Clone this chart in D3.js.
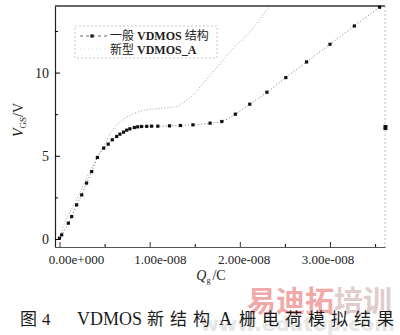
<!DOCTYPE html>
<html>
<head>
<meta charset="utf-8">
<script src="https://cdn.jsdelivr.net/npm/d3@7"></script>
<style>
  html, body { margin: 0; padding: 0; background: #fff; }
  svg { display: block; }
</style>
</head>
<body>
<script>
// Gate charge curves: Qg (in units of 1e-8 C) vs VGS (V)
const qgStandard = [0, 0.024, 0.098, 0.135, 0.19, 0.246, 0.30, 0.357, 0.42, 0.49, 0.54, 0.585, 0.634, 0.67, 0.71, 0.745, 0.78, 0.83, 0.867, 0.91, 0.967, 1.02, 1.09, 1.22, 1.34, 1.48, 1.67, 1.80, 1.95, 2.11, 2.30, 2.51, 2.74, 3.0, 3.27, 3.55];
const vgsStandard = [0.05, 0.25, 0.95, 1.35, 2.05, 2.65, 3.36, 4.05, 4.9, 5.46, 5.7, 5.96, 6.16, 6.3, 6.42, 6.54, 6.62, 6.70, 6.74, 6.76, 6.77, 6.78, 6.78, 6.8, 6.82, 6.86, 6.96, 7.06, 7.5, 8.1, 8.82, 9.7, 10.64, 11.7, 12.8, 13.93];

const qgNew = [0, 0.042, 0.098, 0.16, 0.26, 0.375, 0.486, 0.56, 0.634, 0.726, 0.837, 0.967, 1.07, 1.15, 1.30, 1.39, 1.50, 1.577, 1.69, 1.80, 1.946, 2.113, 2.205, 2.28, 2.335];
const vgsNew = [0, 0.75, 1.45, 2.05, 3.2, 4.46, 5.56, 6.3, 6.86, 7.26, 7.56, 7.76, 7.82, 7.86, 7.96, 8.26, 8.76, 9.26, 9.96, 10.66, 11.56, 12.46, 13.06, 13.66, 13.96];

// lone marker sitting on the right frame
const edgeQg = [3.615];
const edgeVgs = [6.7];

const xMajorTicks = [0, 1, 2, 3];
const xTickLabels = ["0.00e+000", "1.00e-008", "2.00e-008", "3.00e-008"];
const yMajorTicks = [0, 5, 10];
const yMinorTicks = [2.5, 7.5, 12.5];
const xMinorTicks = [0.5, 1.5, 2.5, 3.5];

const legendLabels = ["一般 VDMOS 结构", "新型 VDMOS_A"];

const W = 400, H = 335;
const svg = d3.select("body").append("svg").attr("width", W).attr("height", H);
svg.append("rect").attr("width", W).attr("height", H).attr("fill", "#fff");

const x = d3.scaleLinear().domain([-0.05, 3.61]).range([55, 385]);
const y = d3.scaleLinear().domain([-0.48, 14.0]).range([247, 6]);
// tick labels in the print sit on a slightly compressed spacing
const xLab = d3.scaleLinear().domain([0, 3]).range([76, 327.5]);

const serif = "'Liberation Serif', 'DejaVu Serif', serif";
const cjk = "'Noto Sans CJK SC', sans-serif";

// Frame
const frame = svg.append("g");
frame.append("line").attr("x1", x.range()[0]).attr("x2", x.range()[1]).attr("y1", y.range()[1]).attr("y2", y.range()[1])
  .attr("stroke", "#333").attr("stroke-width", 1.6);
frame.append("line").attr("x1", x.range()[1]).attr("x2", x.range()[1]).attr("y1", y.range()[1]).attr("y2", y.range()[0])
  .attr("stroke", "#bbb").attr("stroke-width", 1).attr("stroke-dasharray", "2,2");

// Axes
const gx = svg.append("g").attr("transform", `translate(0,${y.range()[0]})`)
  .call(d3.axisBottom(x).tickValues(xMajorTicks).tickSizeInner(-5).tickSizeOuter(0).tickFormat(""));
const gxMinor = svg.append("g").attr("transform", `translate(0,${y.range()[0]})`)
  .call(d3.axisBottom(x).tickValues(xMinorTicks).tickSizeInner(-3).tickSizeOuter(0).tickFormat(""));
gxMinor.select(".domain").remove();
const gxLab = svg.append("g").attr("transform", `translate(0,${y.range()[0]})`)
  .call(d3.axisBottom(xLab).tickValues(xMajorTicks).tickSize(0).tickPadding(8).tickFormat((d, i) => xTickLabels[i]));
gxLab.select(".domain").remove();
gxLab.selectAll("text").attr("font-family", serif).attr("font-size", 13).attr("fill", "#222");
gx.select(".domain").attr("stroke", "#555").attr("stroke-width", 1);
gx.selectAll(".tick line").attr("stroke", "#333");

const gy = svg.append("g").attr("transform", `translate(${x.range()[0]},0)`)
  .call(d3.axisLeft(y).tickValues(yMajorTicks).tickSizeInner(-5).tickSizeOuter(0).tickPadding(6));
const gyMinor = svg.append("g").attr("transform", `translate(${x.range()[0]},0)`)
  .call(d3.axisLeft(y).tickValues(yMinorTicks).tickSizeInner(-3).tickSizeOuter(0).tickFormat(""));
gyMinor.select(".domain").remove();
gy.select(".domain").attr("stroke", "#222").attr("stroke-width", 1.2);
gy.selectAll("text").attr("font-family", serif).attr("font-size", 14).attr("fill", "#222");

// Axis titles
const yt = svg.append("text").attr("transform", "translate(23,120) rotate(-90)")
  .attr("text-anchor", "middle").attr("font-family", serif).attr("font-size", 14).attr("fill", "#222");
yt.append("tspan").attr("font-style", "italic").text("V");
yt.append("tspan").attr("font-size", 9).attr("dy", 3).text("GS");
yt.append("tspan").attr("dy", -3).text("/V");

const xt = svg.append("text").attr("x", 211).attr("y", 280)
  .attr("text-anchor", "middle").attr("font-family", serif).attr("font-size", 14).attr("fill", "#222");
xt.append("tspan").attr("font-style", "italic").text("Q");
xt.append("tspan").attr("font-size", 8).attr("dy", 3).text("g");
xt.append("tspan").attr("dy", -3).attr("dx", 2).text("/C");

// Series
const stdData = qgStandard.map((q, i) => [q, vgsStandard[i]]);
const newData = qgNew.map((q, i) => [q, vgsNew[i]]);
const line = d3.line().x(d => x(d[0])).y(d => y(d[1])).curve(d3.curveMonotoneX);

svg.append("path").datum(newData).attr("d", line).attr("fill", "none")
  .attr("stroke", "#a0a0a0").attr("stroke-width", 1).attr("stroke-dasharray", "1,2");
svg.append("path").datum(stdData).attr("d", line).attr("fill", "none")
  .attr("stroke", "#666").attr("stroke-width", 0.9).attr("stroke-dasharray", "1,2.2");

const ms = 3.2;
svg.append("g").selectAll("rect").data(stdData).join("rect")
  .attr("x", d => x(d[0]) - ms / 2).attr("y", d => y(d[1]) - ms / 2)
  .attr("width", ms).attr("height", ms).attr("fill", "#111");
svg.append("g").selectAll("rect").data(edgeQg.map((q, i) => [q, edgeVgs[i]])).join("rect")
  .attr("x", d => x(d[0]) - 2).attr("y", d => y(d[1]) - 2.5)
  .attr("width", 4).attr("height", 5).attr("fill", "#111");

// Legend
const lg = svg.append("g");
lg.append("rect").attr("x", 75).attr("y", 26).attr("width", 142).attr("height", 32)
  .attr("fill", "none").attr("stroke", "#bbb").attr("stroke-width", 0.8).attr("stroke-dasharray", "2,2");
lg.append("line").attr("x1", 80).attr("x2", 108).attr("y1", 36).attr("y2", 36)
  .attr("stroke", "#555").attr("stroke-width", 0.9).attr("stroke-dasharray", "3,3");
lg.append("rect").attr("x", 92 - 1.6).attr("y", 36 - 1.6).attr("width", 3.2).attr("height", 3.2).attr("fill", "#111");
lg.append("line").attr("x1", 80).attr("x2", 108).attr("y1", 49).attr("y2", 49)
  .attr("stroke", "#ccc").attr("stroke-width", 0.8).attr("stroke-dasharray", "1,3");
legendLabels.forEach((lab, i) => {
  const parts = lab.split(" ");
  const t = lg.append("text").attr("x", 110).attr("y", 40 + i * 13.5)
    .attr("font-size", 12).attr("fill", "#222");
  t.append("tspan").attr("font-family", cjk).text(parts[0]);
  t.append("tspan").attr("font-family", serif).attr("font-weight", "bold").attr("dx", 3).text(parts[1]);
  if (parts[2]) t.append("tspan").attr("font-family", cjk).attr("dx", 3).text(parts[2]);
});

// Watermark behind the caption
const wm = svg.append("g");
wm.append("text").attr("x", 395).attr("y", 331).attr("text-anchor", "end")
  .attr("font-family", "'DejaVu Sans', sans-serif").attr("font-size", 20).attr("font-weight", "bold")
  .attr("fill", "#e6e6e6").text("www.edatop.com");
const wt = wm.append("text").attr("x", 247).attr("y", 312)
  .attr("font-family", cjk).attr("font-size", 29).attr("font-weight", "bold");
wt.append("tspan").attr("fill", "#f0a8a8").text("易迪拓");
wt.append("tspan").attr("fill", "#e0cccc").text("培训");

// Caption
const cap = svg.append("text").attr("y", 325).attr("font-size", 17).attr("fill", "#1a1a1a");
cap.append("tspan").attr("x", 20).attr("font-family", cjk).text("图");
cap.append("tspan").attr("x", 42).attr("font-family", serif).text("4");
cap.append("tspan").attr("x", 77).attr("font-family", serif).attr("font-size", 18).text("VDMOS");
cap.append("tspan").attr("x", 147).attr("font-family", cjk).attr("letter-spacing", 6).text("新结构");
cap.append("tspan").attr("x", 219).attr("font-family", serif).attr("font-size", 18).text("A");
cap.append("tspan").attr("x", 239).attr("font-family", cjk).attr("letter-spacing", 6).text("栅电荷模拟结果");
</script>
</body>
</html>
